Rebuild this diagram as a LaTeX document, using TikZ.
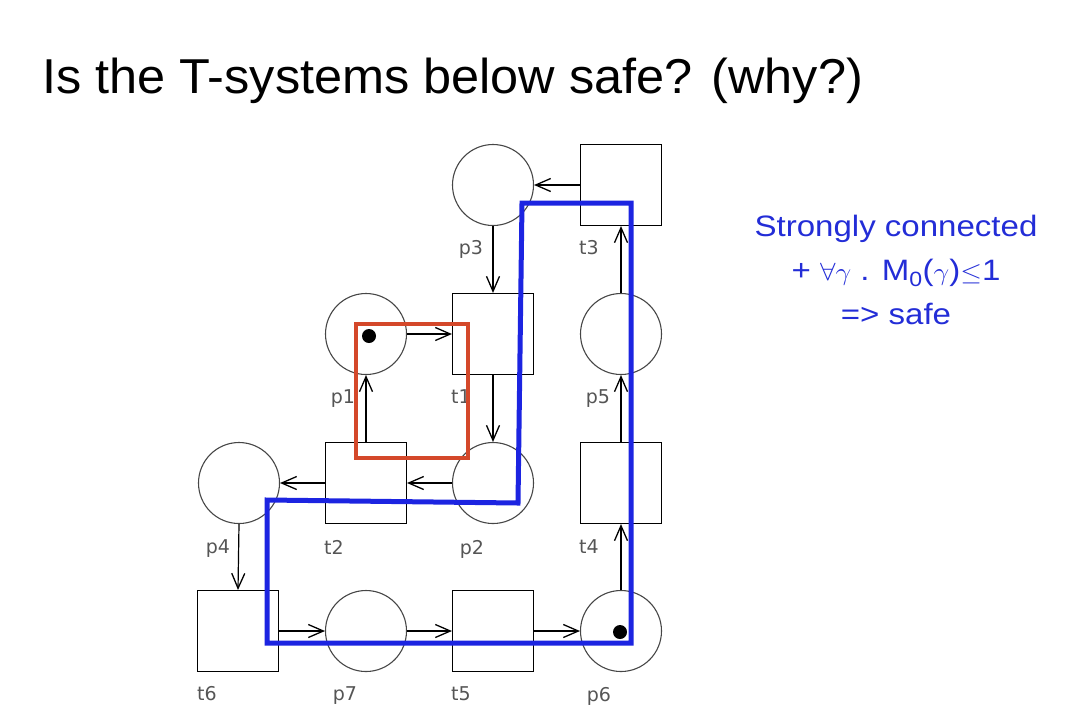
\documentclass[tikz,border=0pt]{standalone}
\usepackage{fontspec}
\setmainfont{Liberation Sans}
\newfontfamily\labfont{DejaVu Sans}
\usetikzlibrary{arrows.meta}
\definecolor{netgray}{RGB}{70,70,70}
\definecolor{labgray}{RGB}{85,85,85}
\definecolor{cycred}{RGB}{212,72,42}
\definecolor{cycblue}{RGB}{28,36,225}
\definecolor{txtblue}{RGB}{35,45,215}
\tikzset{
  place/.style={circle,draw=netgray,line width=1.1pt,minimum size=81pt,inner sep=0pt},
  trans/.style={rectangle,draw=black,line width=1.1pt,minimum size=81pt,inner sep=0pt},
  lab/.style={font=\labfont\fontsize{19}{21}\selectfont,text=labgray,inner sep=0pt},
  arc/.style={line width=1.2pt,-{Straight Barb[length=15pt,width=13pt,line width=1.3pt]}},
  token/.style={circle,fill=black,minimum size=14pt,inner sep=0pt},
}
\begin{document}
\begin{tikzpicture}[x=1pt,y=-1pt]
\useasboundingbox (0,0) rectangle (1086,724);
\node[anchor=base west,font=\fontsize{49}{56}\selectfont,inner sep=0pt,xscale=1.03] (title) at (42,93) {Is the T-systems below safe? (why?)};
% places
\node[place] (p3) at (493,185) {};
\node[place] (p1) at (366,334) {};
\node[place] (p5) at (621,334) {};
\node[place] (p4) at (239,483) {};
\node[place] (p2) at (493,483) {};
\node[place] (p7) at (366,631) {};
\node[place] (p6) at (621,631) {};
% transitions
\node[trans] (t3) at (621,185) {};
\node[trans] (t1) at (493,334) {};
\node[trans] (t2) at (366,483) {};
\node[trans] (t4) at (621,483) {};
\node[trans] (t6) at (238,631) {};
\node[trans] (t5) at (493,631) {};
% tokens
\node[token] (k1) at (369,336) {};
\node[token] (k6) at (620,632) {};
% labels
\node[lab] (lp3) at (471,249) {p3};
\node[lab] (lt3) at (589,248) {t3};
\node[lab] (lp1) at (343,399) {p1};
\node[lab] (lt1) at (461,397) {t1};
\node[lab] (lp5) at (598,399) {p5};
\node[lab] (lp4) at (218,549) {p4};
\node[lab] (lt2) at (334,547) {t2};
\node[lab] (lp2) at (472,549) {p2};
\node[lab] (lt4) at (589,547) {t4};
\node[lab] (lt6) at (207,694) {t6};
\node[lab] (lp7) at (345,696) {p7};
\node[lab] (lt5) at (461,694) {t5};
\node[lab] (lp6) at (599,696) {p6};
% arcs
\draw[arc] (t3.west) -- (p3.east);
\draw[arc] (p3.south) -- (t1.north);
\draw[arc] (p1.east) -- (t1.west);
\draw[arc] (t1.south) -- (p2.north);
\draw[arc] (p2.west) -- (t2.east);
\draw[arc] (t2.north) -- (p1.south);
\draw[arc] (t2.west) -- (p4.east);
\draw[arc] (p4.south) -- (t6.north);
\draw[arc] (t6.east) -- (p7.west);
\draw[arc] (p7.east) -- (t5.west);
\draw[arc] (t5.east) -- (p6.west);
\draw[arc] (p6.north) -- (t4.south);
\draw[arc] (t4.north) -- (p5.south);
\draw[arc] (p5.north) -- (t3.south);
% cycles
\draw[cycred,line width=4pt] (356,324) rectangle (468,458);
\draw[cycblue,line width=5pt,line join=miter] (522,203) -- (631,203) -- (631,643) -- (267,643) -- (267,500) -- (518,503) -- cycle;
% text
\node[text=txtblue,align=center,font=\fontsize{29.5}{44}\selectfont,inner sep=0pt,xscale=1.12] (note) at (896,270)
  {Strongly connected\\ + $\forall\gamma$ . M\textsubscript{0}($\gamma$)$\leq$1\\ => safe};
\end{tikzpicture}
\end{document}
